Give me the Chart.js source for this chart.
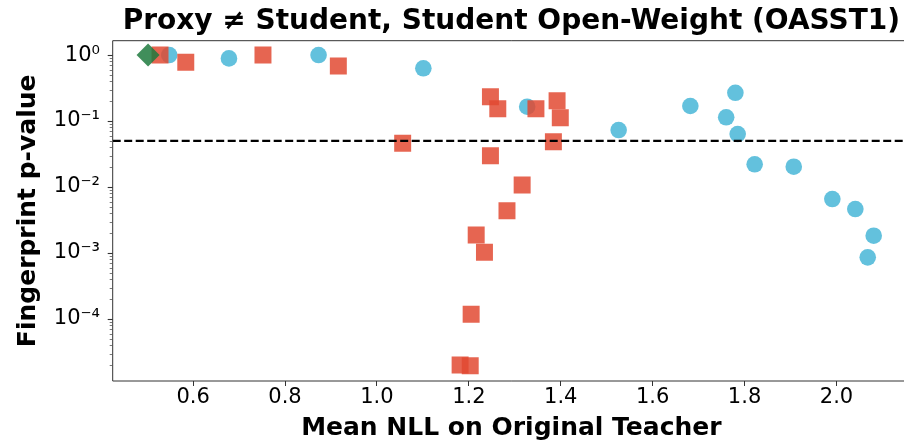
<!DOCTYPE html>
<html lang="en">
<head>
    <meta charset="UTF-8" />
    <title>Proxy ≠ Student, Student Open-Weight (OASST1)</title>
    <script src="https://cdn.jsdelivr.net/npm/chart.js"></script>
    <style>
        html, body { margin: 0; padding: 0; background: #fff; overflow: hidden; }
    </style>
</head>

<body>
    <canvas id="chart" width="910" height="441"></canvas>

    <script>
        // blue circles
        const circleNll = [0.548, 0.678, 0.873, 1.101, 1.327, 1.526, 1.682, 1.760, 1.780, 1.785, 1.822, 1.907, 1.991, 2.041, 2.081, 2.068];
        const circleP   = [1.0, 0.89, 1.0, 0.63, 0.165, 0.073, 0.169, 0.114, 0.268, 0.0636, 0.0221, 0.0203, 0.00658, 0.00464, 0.00183, 0.00086];

        // red squares
        const squareNll = [0.528, 0.584, 0.752, 0.916, 1.056, 1.247, 1.263, 1.346, 1.392, 1.399, 1.384, 1.247, 1.316, 1.283, 1.216, 1.234, 1.205, 1.181, 1.203];
        const squareP   = [1.0, 0.775, 1.0, 0.68, 0.0459, 0.233, 0.154, 0.154, 0.203, 0.112, 0.0486, 0.0298, 0.0107, 0.00437, 0.00187, 0.00103, 0.000118, 0.0000201, 0.0000196];

        // green diamond
        const diamondNll = [0.502];
        const diamondP   = [1.0];

        const threshold = 0.05;

        const xTicks = [0.6, 0.8, 1.0, 1.2, 1.4, 1.6, 1.8, 2.0];
        const yMajorTicks = [1e-4, 1e-3, 1e-2, 1e-1, 1e0];

        // the right edge of the axes falls just outside the 904px window
        const xMin = 0.425, xMax = 2.16;
        const yMin = 1.15e-5, yMax = 1.65;

        const toPoints = (xs, ys) => xs.map((x, i) => ({ x: x, y: ys[i] }));

        // log axis ticks: majors plus 2..9 minors inside the range
        const yTickValues = [];
        for (let e = -5; e <= 0; e++) {
            for (let m = 1; m <= 9; m++) {
                const v = m * Math.pow(10, e);
                if (v >= yMin && v <= yMax) yTickValues.push(v);
            }
        }
        const isMajor = v => yMajorTicks.some(t => Math.abs(t - v) / t < 1e-6);

        const sup = { '-': '⁻', '0': '⁰', '1': '¹', '2': '²', '3': '³', '4': '⁴', '5': '⁵', '6': '⁶', '7': '⁷', '8': '⁸', '9': '⁹' };
        const powLabel = v => '10' + String(Math.round(Math.log10(v))).split('').map(c => sup[c]).join('');

        const FONT = "'DejaVu Sans', sans-serif";

        // spines (top, left, bottom) and y tick marks
        const framePlugin = {
            id: 'frame',
            afterDraw(chart) {
                const ctx = chart.ctx;
                const a = chart.chartArea;
                const ys = chart.scales.y;
                ctx.save();
                ctx.strokeStyle = '#333';
                ctx.lineWidth = 1;
                ctx.beginPath();
                ctx.moveTo(a.right + 5, a.top);
                ctx.lineTo(a.left, a.top);
                ctx.lineTo(a.left, a.bottom);
                ctx.lineTo(a.right + 5, a.bottom);
                ctx.stroke();
                ys.ticks.forEach(t => {
                    const py = Math.round(ys.getPixelForValue(t.value)) + 0.5;
                    const major = isMajor(t.value);
                    ctx.lineWidth = major ? 1.1 : 0.8;
                    ctx.strokeStyle = major ? '#333' : '#555';
                    ctx.beginPath();
                    ctx.moveTo(a.left - (major ? 5 : 3), py);
                    ctx.lineTo(a.left, py);
                    ctx.stroke();
                });
                ctx.restore();
            }
        };

        const ctx = document.getElementById('chart').getContext('2d');
        new Chart(ctx, {
            data: {
                datasets: [
                    {
                        type: 'line',
                        data: [{ x: xMin, y: threshold }, { x: xMax, y: threshold }],
                        borderColor: '#000',
                        borderWidth: 2.2,
                        borderDash: [8, 3.5],
                        pointRadius: 0,
                        fill: false,
                        order: 0
                    },
                    {
                        type: 'scatter',
                        data: toPoints(diamondNll, diamondP),
                        pointStyle: 'rectRot',
                        pointRadius: 11.5,
                        backgroundColor: 'rgba(30,122,62,0.85)',
                        borderWidth: 0,
                        order: 1
                    },
                    {
                        type: 'scatter',
                        data: toPoints(squareNll, squareP),
                        pointStyle: 'rect',
                        pointRadius: 12,
                        backgroundColor: 'rgba(226,74,51,0.85)',
                        borderWidth: 0,
                        order: 2
                    },
                    {
                        type: 'scatter',
                        data: toPoints(circleNll, circleP),
                        pointStyle: 'circle',
                        pointRadius: 8.3,
                        backgroundColor: 'rgba(60,178,212,0.8)',
                        borderWidth: 0,
                        order: 3
                    }
                ]
            },
            options: {
                responsive: false,
                animation: false,
                events: [],
                layout: { padding: 0, autoPadding: false },
                plugins: {
                    legend: { display: false },
                    tooltip: { enabled: false },
                    title: {
                        display: true,
                        fullSize: false,
                        text: 'Proxy ≠ Student, Student Open-Weight (OASST1)',
                        color: '#000',
                        font: { family: FONT, size: 28, weight: 'bold', lineHeight: 1 },
                        padding: { top: 7.3, bottom: 5.4 }
                    }
                },
                scales: {
                    x: {
                        type: 'linear',
                        min: xMin,
                        max: xMax,
                        afterBuildTicks: s => { s.ticks = xTicks.map(v => ({ value: v })); },
                        afterFit: s => { s.height = 60; s.paddingLeft = 0; s.paddingRight = 0; },
                        ticks: {
                            autoSkip: false,
                            maxRotation: 0,
                            color: '#000',
                            padding: -1,
                            font: { family: FONT, size: 21 },
                            callback: v => Number(v).toFixed(1)
                        },
                        grid: {
                            display: true,
                            drawOnChartArea: false,
                            drawTicks: true,
                            tickLength: 5,
                            tickColor: '#333',
                            tickWidth: 1
                        },
                        border: { display: false },
                        title: {
                            display: true,
                            text: 'Mean NLL on Original Teacher',
                            color: '#000',
                            font: { family: FONT, size: 25, weight: 'bold', lineHeight: 1 },
                            padding: { top: 0, bottom: 0 }
                        }
                    },
                    y: {
                        type: 'logarithmic',
                        min: yMin,
                        max: yMax,
                        afterBuildTicks: s => { s.ticks = yTickValues.map(v => ({ value: v })); },
                        afterFit: s => { s.width = 112.7; s.paddingTop = 0; s.paddingBottom = 0; },
                        ticks: {
                            autoSkip: false,
                            color: '#000',
                            padding: 7.7,
                            font: { family: FONT, size: 21 },
                            callback: v => isMajor(v) ? powLabel(v) : ''
                        },
                        grid: {
                            display: true,
                            drawOnChartArea: false,
                            drawTicks: true,
                            tickLength: 5,
                            tickColor: 'rgba(0,0,0,0)'
                        },
                        border: { display: false },
                        title: {
                            display: true,
                            text: 'Fingerprint p-value',
                            color: '#000',
                            font: { family: FONT, size: 25, weight: 'bold', lineHeight: 1.2 },
                            padding: { top: 13, bottom: 0 }
                        }
                    }
                }
            },
            plugins: [framePlugin]
        });
    </script>
</body>
</html>
